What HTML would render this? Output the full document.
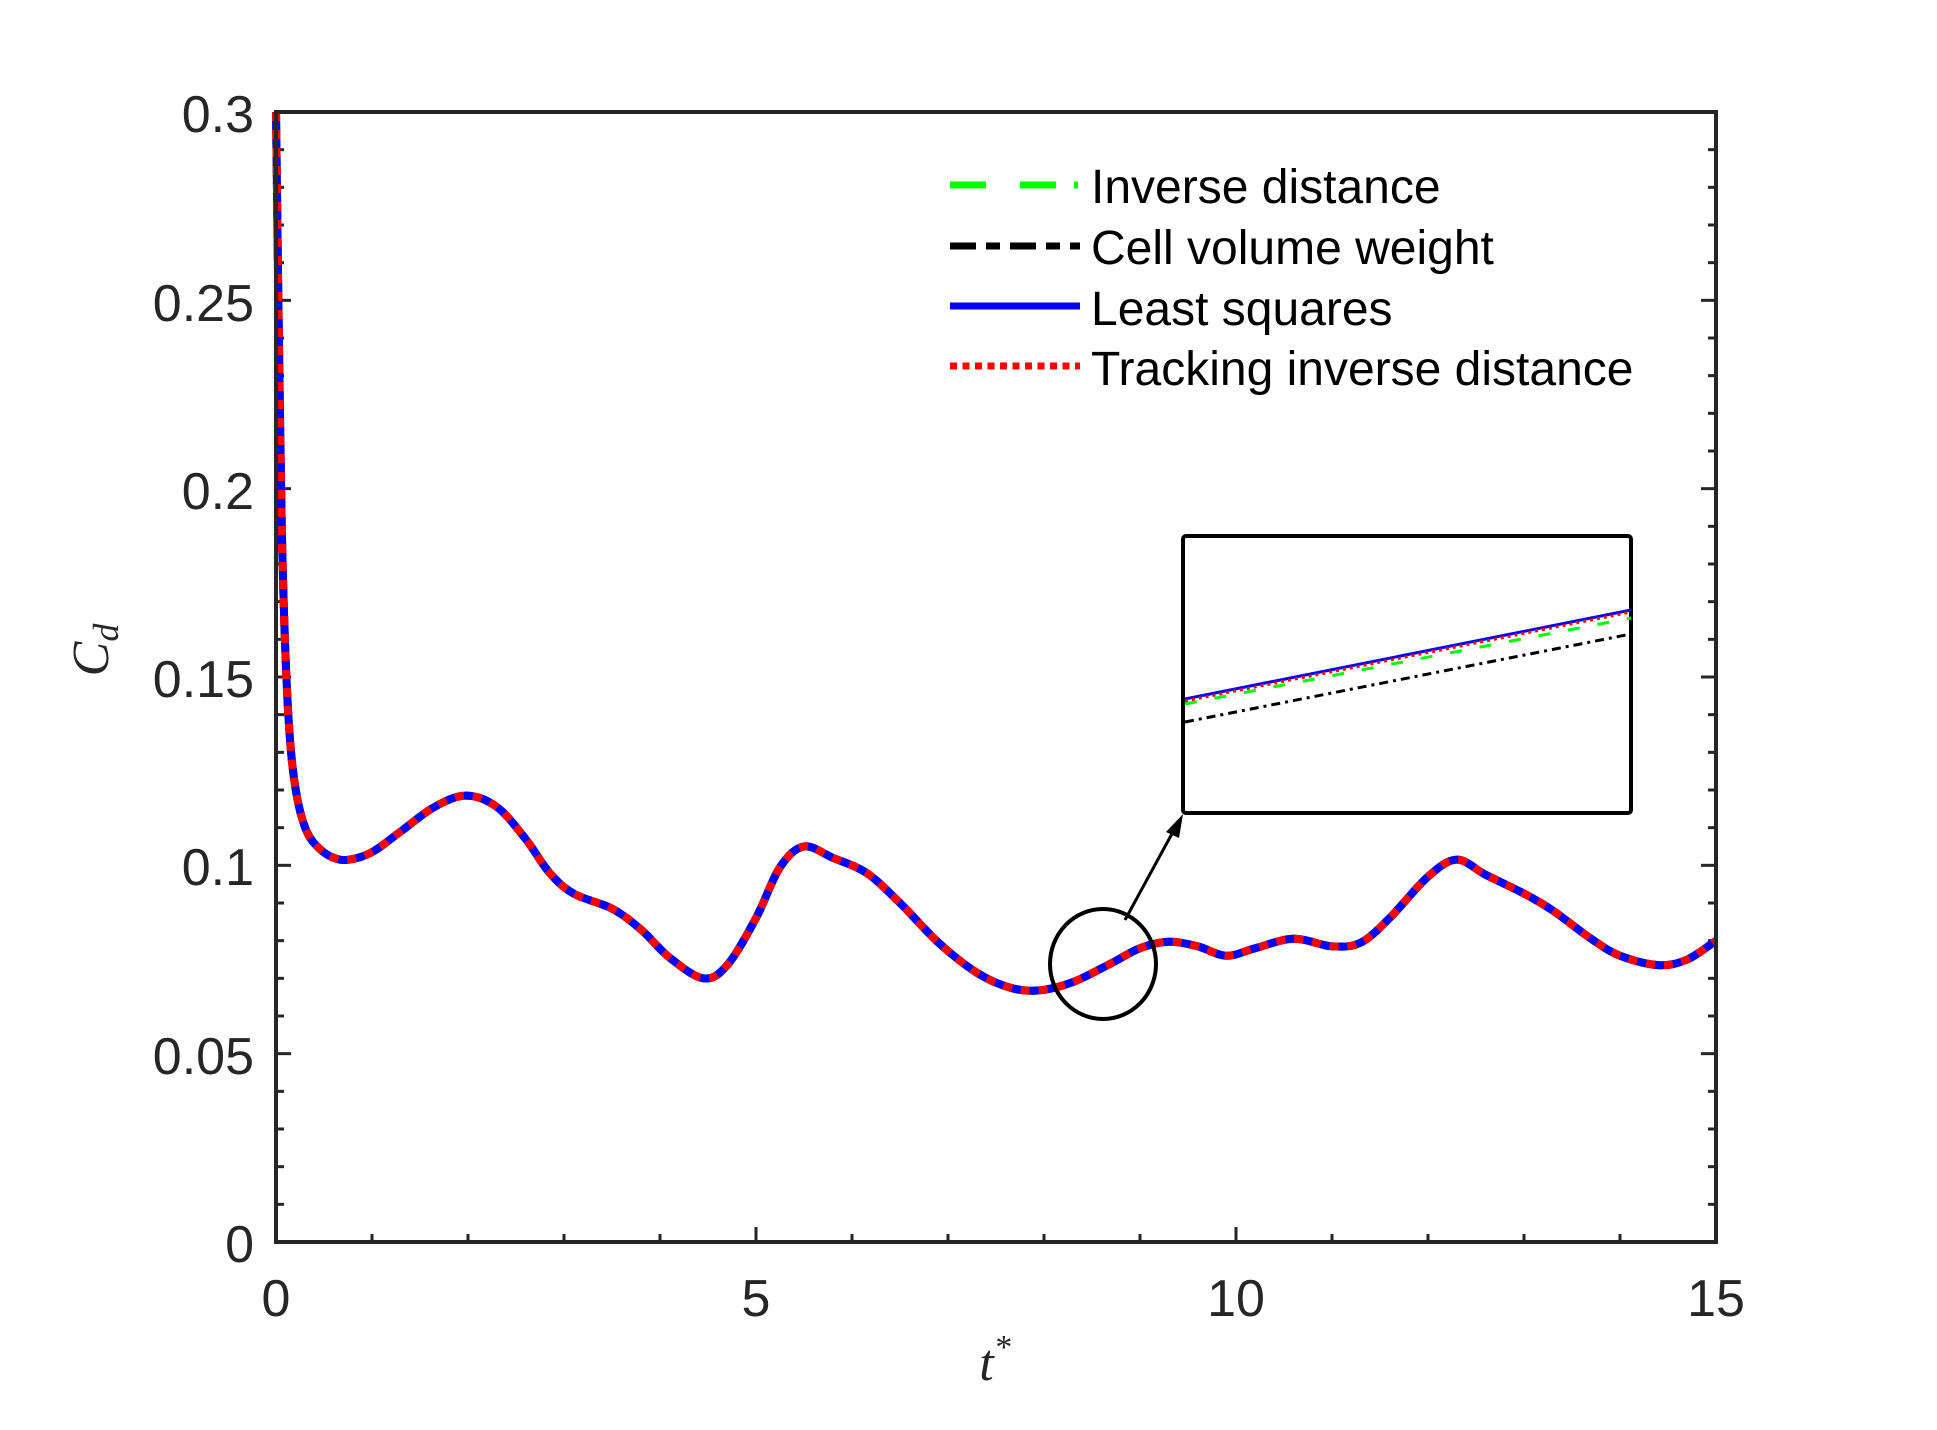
<!DOCTYPE html>
<html><head><meta charset="utf-8"><style>
html,body{margin:0;padding:0;background:#fff;}
svg{display:block;}
text{font-family:"Liberation Sans",Arial,sans-serif;fill:#262626;}
</style></head><body>
<svg id="s" width="1937" height="1430" viewBox="0 0 1937 1430" xmlns="http://www.w3.org/2000/svg">
<rect width="1937" height="1430" fill="#fff"/>
<g id="ticks" stroke="#262626" stroke-width="3"></g>
<path id="cb" fill="none" stroke="#000" stroke-width="8" stroke-dasharray="20 8 6 8"/>
<path id="cg" fill="none" stroke="#00ff00" stroke-width="8" stroke-dasharray="26 14"/>
<path id="c1" fill="none" stroke="#0000ff" stroke-width="8" stroke-linejoin="round"/>
<path id="c2" fill="none" stroke="#ff0000" stroke-width="8" stroke-dasharray="9 9"/>
<rect x="276" y="112" width="1440" height="1130" fill="none" stroke="#262626" stroke-width="4"/>
<g font-size="52" text-anchor="end">
<text x="254" y="132">0.3</text>
<text x="254" y="321">0.25</text>
<text x="254" y="509">0.2</text>
<text x="254" y="697">0.15</text>
<text x="254" y="885">0.1</text>
<text x="254" y="1074">0.05</text>
<text x="254" y="1262">0</text>
</g>
<g font-size="52" text-anchor="middle">
<text x="276" y="1316">0</text>
<text x="756" y="1316">5</text>
<text x="1236" y="1316">10</text>
<text x="1716" y="1316">15</text>
</g>
<text x="995" y="1380" font-size="52" font-style="italic" text-anchor="middle" style="font-family:'Liberation Serif',serif">t<tspan font-size="34" dy="-22">*</tspan></text>
<text transform="translate(108,650) rotate(-90)" font-size="52" font-style="italic" text-anchor="middle" style="font-family:'Liberation Serif',serif">C<tspan font-size="36" dy="10">d</tspan></text>
<!-- legend -->
<line x1="950" y1="185" x2="1076" y2="185" stroke="#00ff00" stroke-width="7" stroke-dasharray="36 34"/>
<line x1="1074" y1="185" x2="1078" y2="185" stroke="#00ff00" stroke-width="7"/>
<line x1="950" y1="246" x2="1080" y2="246" stroke="#000" stroke-width="7" stroke-dasharray="26 10 14 10"/>
<line x1="950" y1="306" x2="1080" y2="306" stroke="#0000ff" stroke-width="7"/>
<line x1="950" y1="366" x2="1080" y2="366" stroke="#ff0000" stroke-width="7" stroke-dasharray="7 5.5"/>
<g font-size="48">
<text x="1091" y="203" style="fill:#000">Inverse distance</text>
<text x="1091" y="264" style="fill:#000">Cell volume weight</text>
<text x="1091" y="325" style="fill:#000">Least squares</text>
<text x="1091" y="385" style="fill:#000">Tracking inverse distance</text>
</g>
<!-- inset -->
<rect x="1183" y="536" width="448" height="277" rx="3" fill="#fff" stroke="#000" stroke-width="4"/>
<line x1="1185" y1="722" x2="1631" y2="634" stroke="#000" stroke-width="3" stroke-dasharray="9 5 3 5"/>
<line x1="1185" y1="704" x2="1631" y2="618" stroke="#00ff00" stroke-width="3" stroke-dasharray="12 18"/>
<line x1="1185" y1="699" x2="1631" y2="610" stroke="#0000ff" stroke-width="3"/>
<line x1="1185" y1="701" x2="1631" y2="612" stroke="#ff0000" stroke-width="3" stroke-dasharray="3 4"/>
<ellipse cx="1103" cy="964" rx="53" ry="55" fill="none" stroke="#000" stroke-width="4"/>
<line x1="1125" y1="920" x2="1174" y2="830" stroke="#000" stroke-width="3"/>
<polygon points="1183,814 1166,832 1179,838" fill="#000"/>
</svg>
<script>
var X=function(t){return 276+96*t},Y=function(c){return 1242-3766.7*c};
var d=[[0,0.3],[0.03,0.24],[0.06,0.19],[0.1,0.155],[0.15,0.132],[0.22,0.118],[0.32,0.109],[0.45,0.1045],[0.6,0.102],[0.76,0.1015],[1.0,0.1035],[1.3,0.109],[1.65,0.1155],[1.98,0.1185],[2.3,0.1155],[2.6,0.107],[2.85,0.098],[3.1,0.0925],[3.5,0.0885],[3.8,0.083],[4.1,0.0755],[4.45,0.0700],[4.7,0.0735],[5.0,0.086],[5.25,0.0995],[5.5,0.105],[5.8,0.102],[6.15,0.098],[6.5,0.09],[6.9,0.0795],[7.3,0.0715],[7.65,0.0675],[7.95,0.0668],[8.3,0.0690],[8.7,0.0740],[9.0,0.0780],[9.3,0.0797],[9.6,0.0785],[9.9,0.0760],[10.2,0.0780],[10.6,0.0805],[11.0,0.0785],[11.3,0.0795],[11.6,0.0860],[12.0,0.0970],[12.3,0.1015],[12.6,0.0975],[13.0,0.0925],[13.3,0.0880],[13.7,0.0805],[14.0,0.0760],[14.4,0.0735],[14.7,0.0750],[15,0.0800]];
var p=d.map(function(a){return [X(a[0]),Y(a[1])]});
var s="M"+p[0][0]+","+p[0][1];
for(var i=0;i<p.length-1;i++){var p0=p[Math.max(0,i-1)],p1=p[i],p2=p[i+1],p3=p[Math.min(p.length-1,i+2)];
s+=" C"+(p1[0]+(p2[0]-p0[0])/6)+","+(p1[1]+(p2[1]-p0[1])/6)+" "+(p2[0]-(p3[0]-p1[0])/6)+","+(p2[1]-(p3[1]-p1[1])/6)+" "+p2[0]+","+p2[1];}
["cb","cg","c1","c2"].forEach(function(id){document.getElementById(id).setAttribute("d",s)});
var g=document.getElementById("ticks"),h="";
for(var k=0;k<=30;k++){var y=Y(k*0.01),L=(k%5==0)?15:8;h+='<line x1="276" y1="'+y+'" x2="'+(276+L)+'" y2="'+y+'"/><line x1="1716" y1="'+y+'" x2="'+(1716-L)+'" y2="'+y+'"/>';}
for(var k=0;k<=15;k++){var x=X(k),L=(k%5==0)?15:8;h+='<line x1="'+x+'" y1="1242" x2="'+x+'" y2="'+(1242-L)+'"/>';}
g.innerHTML=h;
</script>
</body></html>
